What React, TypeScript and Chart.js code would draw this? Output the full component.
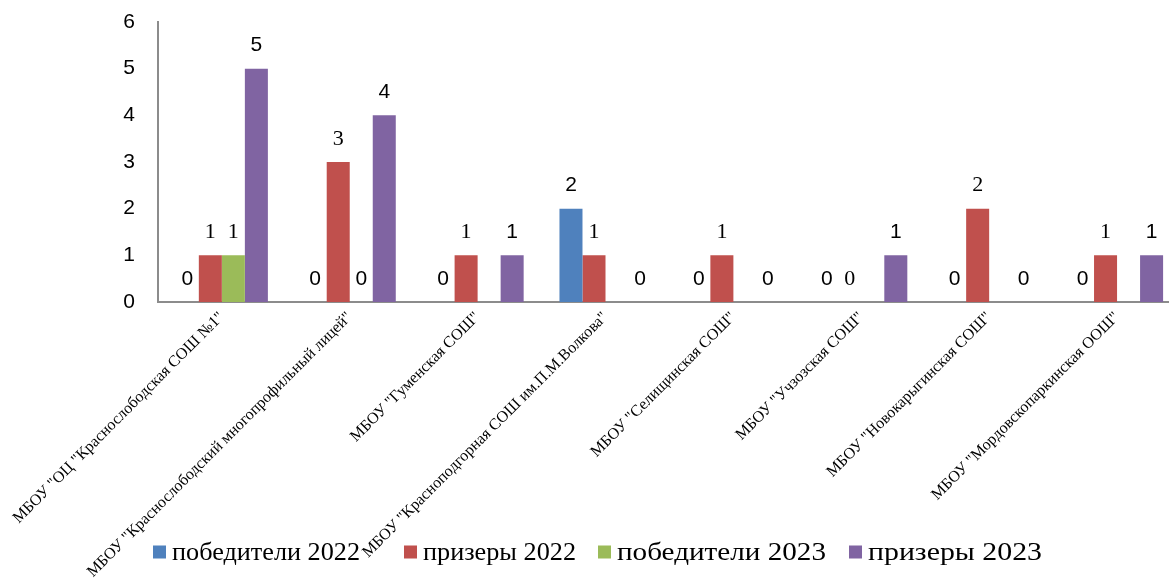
import React, { useEffect, useRef } from "react";
import { Chart, registerables } from "chart.js";

Chart.register(...registerables);

const categories = [
  'МБОУ "ОЦ "Краснослободская СОШ №1"',
  'МБОУ "Краснослободский многопрофильный лицей"',
  'МБОУ "Гуменская СОШ"',
  'МБОУ "Красноподгорная СОШ им.П.М.Волкова"',
  'МБОУ "Селищинская СОШ"',
  'МБОУ "Учзозская СОШ"',
  'МБОУ "Новокарыгинская СОШ"',
  'МБОУ "Мордовскопаркинская ООШ"',
];

const seriesNames = ["победители 2022", "призеры 2022", "победители 2023", "призеры 2023"];
const winners2022 = [0, 0, 0, 2, 0, 0, 0, 0];
const prize2022 = [1, 3, 1, 1, 1, 0, 2, 1];
const winners2023 = [1, 0, null, null, null, null, null, null];
const prize2023 = [5, 4, 1, 0, 0, 1, 0, 1];
const yTicks = [0, 1, 2, 3, 4, 5, 6];

const colors = ["#4F81BD", "#C0504D", "#9BBB59", "#8064A2"];
const legendStarts = [153, 404, 598, 849];
const legendTextWidths = [188, 153, 209, 174];

const SANS = '"Liberation Sans", Arial, sans-serif';
const SERIF = '"Liberation Serif", "Times New Roman", serif';

const valueLabels = {
  id: "valueLabels",
  afterDatasetsDraw(chart: any) {
    const ctx = chart.ctx;
    ctx.save();
    ctx.fillStyle = "#000";
    ctx.textAlign = "center";
    ctx.textBaseline = "middle";
    chart.data.datasets.forEach((ds: any, di: number) => {
      const meta = chart.getDatasetMeta(di);
      meta.data.forEach((bar: any, i: number) => {
        const v = ds.data[i];
        if (v === null || v === undefined) return;
        const serif = di === 1 || (di === 2 && v > 0);
        ctx.font = serif ? `22px ${SERIF}` : `21px ${SANS}`;
        ctx.fillText(String(v), bar.x, bar.y - 23);
      });
    });
    ctx.restore();
  },
};

const customLegend = {
  id: "customLegend",
  afterDraw(chart: any) {
    const ctx = chart.ctx;
    ctx.save();
    ctx.font = `26px ${SERIF}`;
    ctx.textBaseline = "middle";
    const box = 13;
    const gapBoxText = 6;
    const y = 553;
    chart.data.datasets.forEach((d: any, i: number) => {
      const x = legendStarts[i];
      ctx.fillStyle = d.backgroundColor;
      ctx.fillRect(x, y - box / 2 - 1, box, box);
      ctx.fillStyle = "#000";
      const w = ctx.measureText(d.label).width;
      const sx = legendTextWidths[i] / w;
      ctx.save();
      ctx.translate(x + box + gapBoxText, y);
      ctx.scale(sx, 1);
      ctx.fillText(d.label, 0, 0);
      ctx.restore();
    });
    ctx.restore();
  },
};

export default function App() {
  const ref = useRef<HTMLCanvasElement>(null);
  useEffect(() => {
    const prev = document.body.style.margin;
    document.body.style.margin = "0";
    const seriesData = [winners2022, prize2022, winners2023, prize2023];
    const chart = new Chart(ref.current!, {
      type: "bar",
      data: {
        labels: categories,
        datasets: seriesNames.map((name, i) => ({
          label: name,
          data: seriesData[i],
          backgroundColor: colors[i],
          borderWidth: 0,
          barPercentage: 1,
          categoryPercentage: 0.72,
        })),
      },
      options: {
        animation: false,
        responsive: true,
        maintainAspectRatio: false,
        layout: { padding: { top: 22, left: 0, right: 0, bottom: 0 } },
        plugins: {
          legend: { display: false },
          tooltip: { enabled: false },
        },
        scales: {
          x: {
            grid: { display: false, drawTicks: false },
            border: { color: "#8c8c8c", width: 2 },
            ticks: {
              minRotation: 45,
              maxRotation: 45,
              autoSkip: false,
              padding: 6,
              color: "#000",
              font: { family: SERIF, size: 16 },
            },
            afterFit(scale: any) {
              scale.height = 279;
            },
          },
          y: {
            min: 0,
            max: 6,
            grid: { display: false, drawTicks: true, tickLength: 21 },
            border: { color: "#8c8c8c", width: 2 },
            afterBuildTicks(scale: any) {
              scale.ticks = yTicks.map((v) => ({ value: v }));
            },
            ticks: {
              padding: 2,
              color: "#000",
              font: { family: SANS, size: 21 },
            },
            afterFit(scale: any) {
              scale.width = 156;
            },
          },
        },
      },
      plugins: [valueLabels, customLegend],
    });
    return () => {
      chart.destroy();
      document.body.style.margin = prev;
    };
  }, []);
  return (
    <div style={{ width: 1169, height: 581, overflow: "hidden", position: "relative" }}>
      <div style={{ width: 1181, height: 581, position: "absolute", left: 0, top: 0 }}>
        <canvas ref={ref} />
      </div>
    </div>
  );
}
